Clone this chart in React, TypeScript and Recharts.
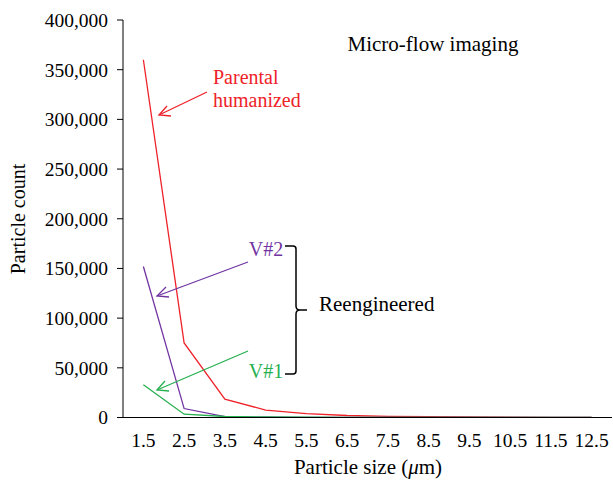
import React from "react";
import { LineChart, Line, XAxis, YAxis } from "recharts";

const sizes = [1.5, 2.5, 3.5, 4.5, 5.5, 6.5, 7.5, 8.5, 9.5, 10.5, 11.5, 12.5];
const parental = [360000, 75000, 18500, 7500, 4000, 2000, 1200, 800, 500, 300, 200, 100];
const v2 = [152000, 9000, 900, 300, 200, 150, 100, 80, 60, 50, 40, 30];
const v1 = [33000, 3300, 1000, 500, 300, 200, 150, 100, 80, 60, 50, 40];
const yTicks = [0, 50000, 100000, 150000, 200000, 250000, 300000, 350000, 400000];
const boundaryTicks = [1, 2, 3, 4, 5, 6, 7, 8, 9, 10, 11, 12, 13];

const data = sizes.map((s, i) => ({ size: s, parental: parental[i], v2: v2[i], v1: v1[i] }));

const FONT = "'Liberation Serif', 'DejaVu Serif', serif";
const RED = "#ee2229";
const PURPLE = "#7134a2";
const GREEN = "#26b04f";

const fmt = (v: number) => v.toLocaleString("en-US");

export default function App() {
  return (
    <div style={{ position: "absolute", left: 0, top: 0, width: 613, height: 483, background: "#fff" }}>
      <LineChart
        width={613}
        height={483}
        data={data}
        margin={{ top: 20, right: 1, left: 0, bottom: 17.5 }}
      >
        <XAxis
          xAxisId="a"
          dataKey="size"
          type="number"
          domain={[1, 13]}
          ticks={boundaryTicks}
          tick={false}
          tickSize={6}
          height={8}
          stroke="#000"
          tickLine={{ stroke: "#000" }}
        />
        <XAxis
          xAxisId="b"
          dataKey="size"
          type="number"
          domain={[1, 13]}
          ticks={sizes}
          axisLine={false}
          tickLine={false}
          tickSize={0}
          tickMargin={8}
          height={40}
          interval={0}
          tick={{ fill: "#000", fontFamily: FONT, fontSize: 19.5 }}
        />
        <YAxis
          domain={[0, 400000]}
          ticks={yTicks}
          tickFormatter={fmt}
          width={123}
          tickSize={6}
          tickMargin={9}
          stroke="#000"
          tick={{ fill: "#000", fontFamily: FONT, fontSize: 19.5 }}
          interval={0}
        />
        <Line xAxisId="a" dataKey="parental" stroke={RED} strokeWidth={1.3} dot={false} isAnimationActive={false} />
        <Line xAxisId="a" dataKey="v2" stroke={PURPLE} strokeWidth={1.3} dot={false} isAnimationActive={false} />
        <Line xAxisId="a" dataKey="v1" stroke={GREEN} strokeWidth={1.3} dot={false} isAnimationActive={false} />
      </LineChart>
      <svg
        width={613}
        height={483}
        style={{ position: "absolute", left: 0, top: 0, pointerEvents: "none" }}
        fontFamily={FONT}
      >
        <text x={25} y={219} transform="rotate(-90 25 219)" textAnchor="middle" fontSize={20} fill="#000">
          Particle count
        </text>
        <text x={368} y={474} textAnchor="middle" fontSize={21} fill="#000">
          Particle size (<tspan fontStyle="italic">μ</tspan>m)
        </text>
        <text x={433} y={51} textAnchor="middle" fontSize={21} fill="#000">
          Micro-flow imaging
        </text>
        <text x={213} y={84} fontSize={20} fill={RED}>Parental</text>
        <text x={213} y={107} fontSize={20} fill={RED}>humanized</text>
        <g stroke={RED} strokeWidth={1.3} fill="none">
          <line x1={207} y1={92} x2={159} y2={115} />
          <polyline points="167,106 159,115 171,116" />
        </g>
        <text x={266} y={256} textAnchor="middle" fontSize={20} fill={PURPLE}>V#2</text>
        <g stroke={PURPLE} strokeWidth={1.3} fill="none">
          <line x1={248} y1={262} x2={157} y2={296} />
          <polyline points="166,287 157,296 169,297" />
        </g>
        <text x={266} y={378} textAnchor="middle" fontSize={20} fill={GREEN}>V#1</text>
        <g stroke={GREEN} strokeWidth={1.3} fill="none">
          <line x1={248} y1={351} x2={157} y2={390} />
          <polyline points="165,381 157,390 169,391" />
        </g>
        <path
          d="M285,246 L293,246 Q296,246 296,249 L296,306 Q296,310 300,310 L307,310 M300,310 Q296,310 296,314 L296,371 Q296,374 293,374 L285,374"
          stroke="#000"
          strokeWidth={1.5}
          fill="none"
        />
        <text x={319} y={311} fontSize={21} fill="#000">Reengineered</text>
      </svg>
    </div>
  );
}
